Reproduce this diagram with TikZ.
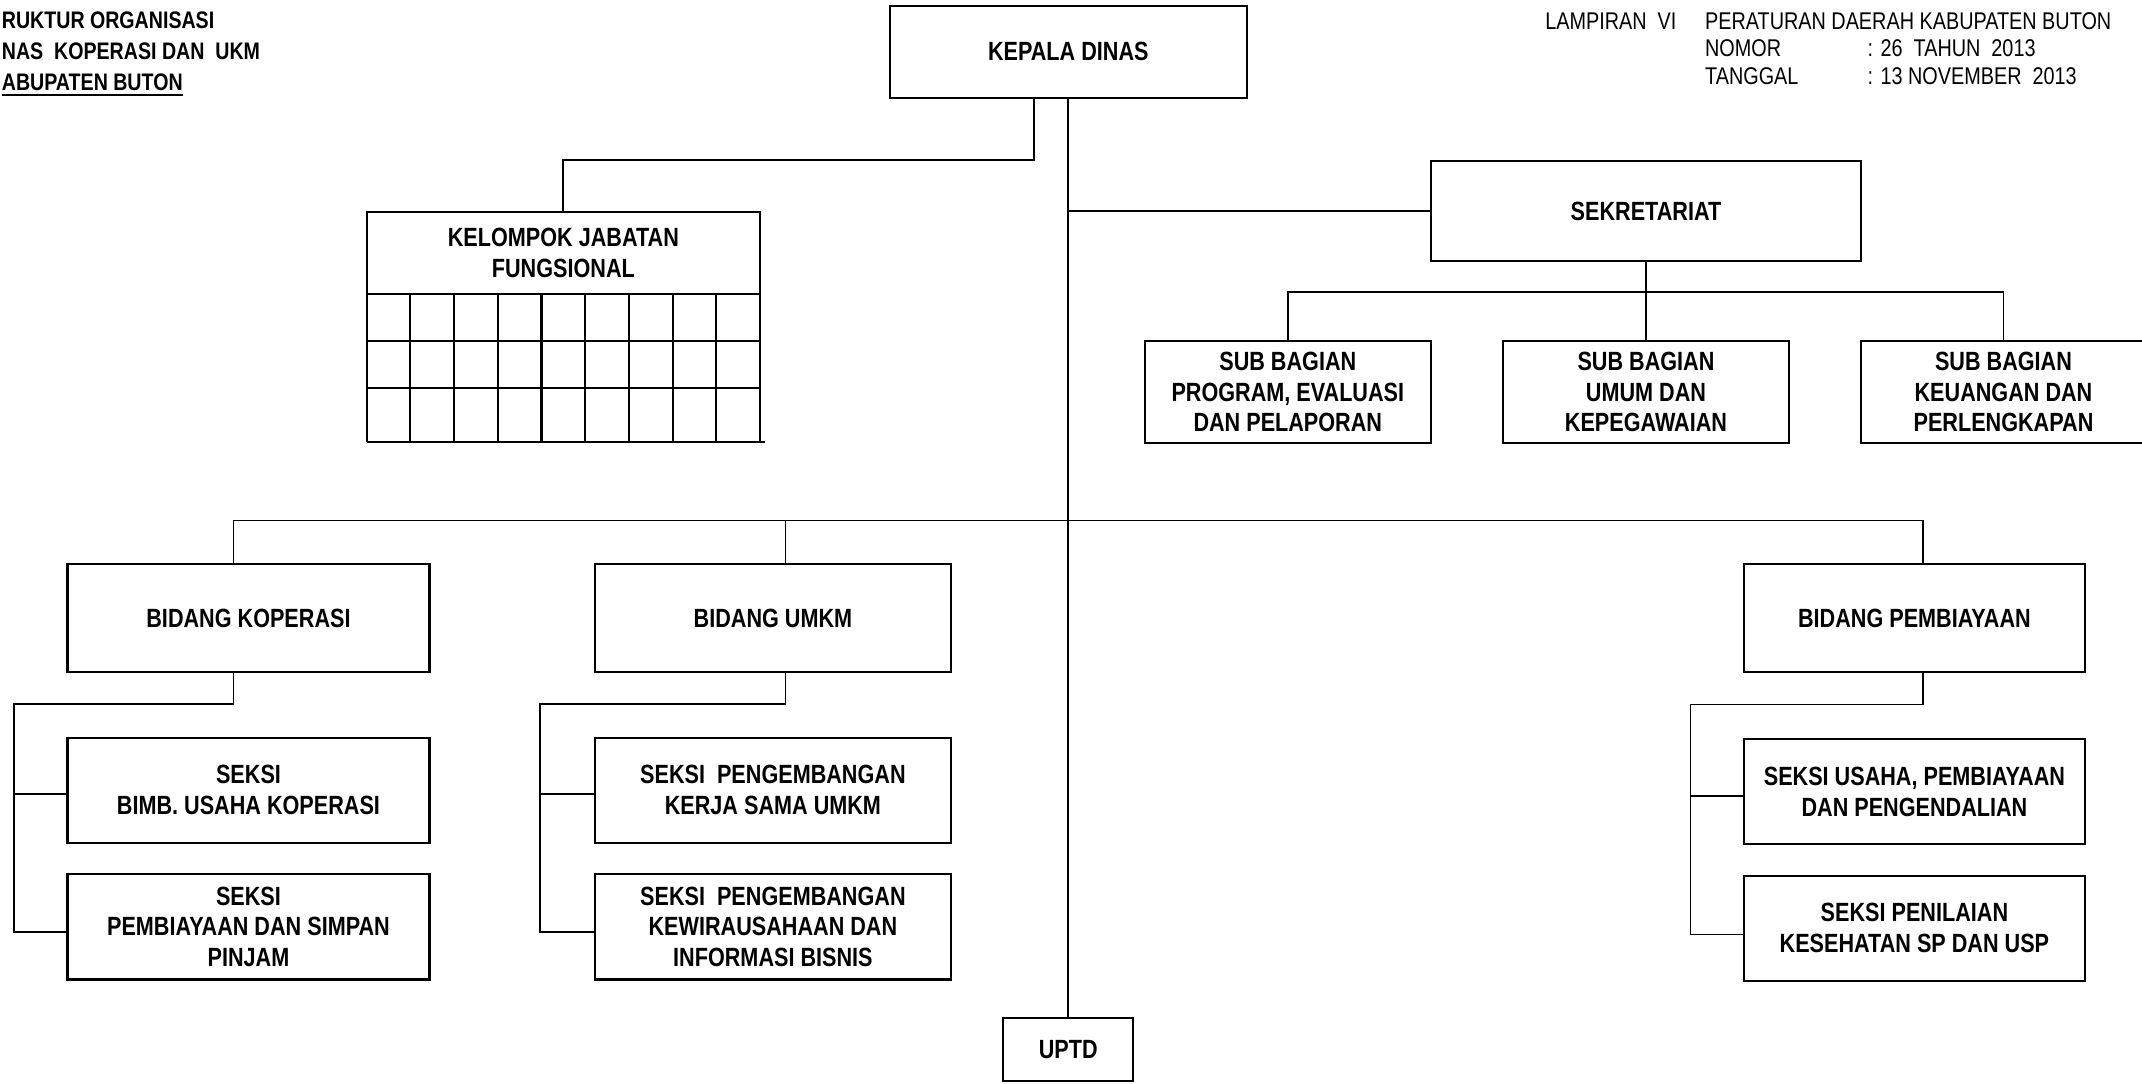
\documentclass[tikz,border=0pt]{standalone}
\usepackage{fontspec}
\setmainfont{Liberation Sans}[FakeStretch=0.82]
\begin{document}
\begin{tikzpicture}[x=1pt,y=-1pt,
  box/.style={draw, line width=1.5pt, inner sep=0pt, outer sep=0pt, align=center,
    font=\bfseries\fontsize{19.3}{22.5}\selectfont},
  conn/.style={line width=1.3pt},
  gridline/.style={line width=1.5pt},
  headb/.style={inner sep=0pt, anchor=base west, font=\bfseries\fontsize{17.5}{20}\selectfont},
  headr/.style={inner sep=0pt, anchor=base west, font=\fontsize{17.7}{20}\selectfont}]
\useasboundingbox (0,0) rectangle (1568,793);
% headers
\node[headb] (h1) at (1.2,21.2) {RUKTUR ORGANISASI};
\node[headb] (h2) at (1.2,43.4) {NAS\ \ KOPERASI DAN\ \ UKM};
\node[headb] (h3) at (1.2,66.4) {ABUPATEN BUTON};
\draw[line width=1.2pt] ([yshift=-3.2pt]h3.base west) -- ([yshift=-3.2pt]h3.base east);
\node[headr] (r1) at (1131,21.9) {LAMPIRAN\ \ VI};
\node[headr] (r2) at (1248,21.9) {PERATURAN DAERAH KABUPATEN BUTON};
\node[headr] (r3) at (1248,41.5) {NOMOR};
\node[headr] (r4) at (1367,41.5) {: 26\ \ TAHUN\ \ 2013};
\node[headr] (r5) at (1248,61.5) {TANGGAL};
\node[headr] (r6) at (1367,61.5) {: 13 NOVEMBER\ \ 2013};
% boxes
\node[box, minimum width=261pt, minimum height=67.3pt] (kd) at (782,37.9) {KEPALA DINAS};
\node[box, minimum width=288pt, minimum height=59.6pt] (kjf) at (412.4,185.2) {KELOMPOK JABATAN\\FUNGSIONAL};
\node[box, minimum width=314.7pt, minimum height=73pt] (sek) at (1204.9,154.5) {SEKRETARIAT};
\node[box, minimum width=209.6pt, minimum height=74.5pt] (sb1) at (942.7,286.9) {SUB BAGIAN\\PROGRAM, EVALUASI\\DAN PELAPORAN};
\node[box, minimum width=208.7pt, minimum height=74.5pt] (sb2) at (1204.9,286.9) {SUB BAGIAN\\UMUM DAN\\KEPEGAWAIAN};
\node[box, minimum width=209pt, minimum height=74.5pt] (sb3) at (1466.6,286.9) {SUB BAGIAN\\KEUANGAN DAN\\PERLENGKAPAN};
\node[box, minimum width=265pt, minimum height=79pt] (bk) at (181.9,452.5) {BIDANG KOPERASI};
\node[box, minimum width=260.5pt, minimum height=79pt] (bu) at (565.8,452.5) {BIDANG UMKM};
\node[box, minimum width=249.7pt, minimum height=79pt] (bp) at (1401.4,452.5) {BIDANG PEMBIAYAAN};
\node[box, minimum width=265pt, minimum height=77pt] (sk1) at (181.9,578.5) {SEKSI\\BIMB. USAHA KOPERASI};
\node[box, minimum width=265pt, minimum height=77pt] (sk2) at (181.9,678.5) {SEKSI\\PEMBIAYAAN DAN SIMPAN\\PINJAM};
\node[box, minimum width=260.5pt, minimum height=77pt] (su1) at (565.8,578.5) {SEKSI\ \ PENGEMBANGAN\\KERJA SAMA UMKM};
\node[box, minimum width=260.5pt, minimum height=77pt] (su2) at (565.8,678.5) {SEKSI\ \ PENGEMBANGAN\\KEWIRAUSAHAAN DAN\\INFORMASI BISNIS};
\node[box, minimum width=249.7pt, minimum height=77pt] (sp1) at (1401.4,579.5) {SEKSI USAHA, PEMBIAYAAN\\DAN PENGENDALIAN};
\node[box, minimum width=249.7pt, minimum height=77pt] (sp2) at (1401.4,679.5) {SEKSI PENILAIAN\\KESEHATAN SP DAN USP};
\node[box, minimum width=95.3pt, minimum height=46.3pt] (uptd) at (782,768.5) {UPTD};
% grid below kelompok jabatan fungsional
\foreach \i in {0,...,9} \draw[gridline] (268.4+32*\i,215) -- (268.4+32*\i,323.8);
\draw[gridline] (268.4,249.4) -- (556.4,249.4);
\draw[gridline] (268.4,283.8) -- (556.4,283.8);
\draw[gridline] (268.4,323.8) -- (560,323.8);
% connectors
\coordinate (kjbar) at (0,117);
\draw[conn] ([xshift=-25pt]kd.south) |- (kjf.north |- kjbar) -- (kjf.north);
\draw[conn] (kd.south) -- (uptd.north);
\draw[conn] (sek.west -| kd.south) -- (sek.west);
\coordinate (sbar) at (0,214);
\draw[conn] (sek.south) -- (sb2.north);
\draw[conn] (sb1.north) -- (sb1.north |- sbar) -- (sb3.north |- sbar) -- (sb3.north);
\coordinate (bbar) at (0,381);
\coordinate (bkt) at ([xshift=-11pt]bk.north);
\coordinate (but) at ([xshift=9.2pt]bu.north);
\coordinate (bpt) at ([xshift=6.3pt]bp.north);
\draw[conn] (bkt) -- (bkt |- bbar) -- (bpt |- bbar) -- (bpt);
\draw[conn] (but |- bbar) -- (but);
% koperasi bracket
\coordinate (kl) at (10.2,515.5);
\draw[conn] ([xshift=-11pt]bk.south) |- (kl) -- (kl |- 0,682) -- (sk1.west |- 0,682);
\draw[conn] (kl |- 0,581.4) -- (sk1.west |- 0,581.4);
% umkm bracket
\coordinate (ul) at (395.1,515.5);
\draw[conn] ([xshift=9.2pt]bu.south) |- (ul) -- (ul |- 0,682) -- (su1.west |- 0,682);
\draw[conn] (ul |- 0,581.4) -- (su1.west |- 0,581.4);
% pembiayaan bracket
\coordinate (pl) at (1237.5,515.7);
\draw[conn] ([xshift=6.3pt]bp.south) |- (pl) -- (pl |- 0,684) -- (sp1.west |- 0,684);
\draw[conn] (pl |- 0,582.5) -- (sp1.west |- 0,582.5);
\end{tikzpicture}
\end{document}
